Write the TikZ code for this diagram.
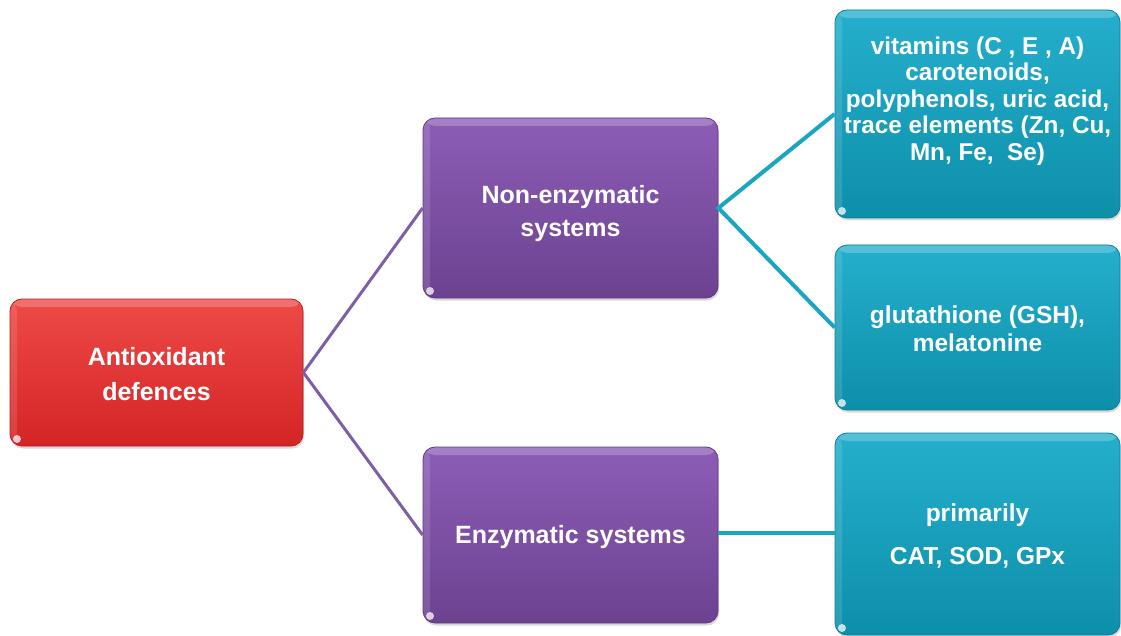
\documentclass[tikz,border=0pt]{standalone}
\usepackage{fontspec}
\setmainfont{Liberation Sans}
\usetikzlibrary{shadows}
\definecolor{redtop}{HTML}{EE4A47}
\definecolor{redbot}{HTML}{D42426}
\definecolor{redline}{HTML}{B51E20}
\definecolor{purtop}{HTML}{8C5DB6}
\definecolor{purbot}{HTML}{6C4290}
\definecolor{purline}{HTML}{5E3A80}
\definecolor{cyntop}{HTML}{25AFCC}
\definecolor{cynbot}{HTML}{0D8FAA}
\definecolor{cynline}{HTML}{0B7F97}
\definecolor{purconn}{HTML}{7E5EA6}
\definecolor{cynconn}{HTML}{1AA6C3}
\begin{document}
\begin{tikzpicture}[x=1pt,y=-1pt,
  box/.style={line width=0.8pt, rounded corners=12pt, inner sep=0pt,
    drop shadow={shadow xshift=1pt, shadow yshift=-2.5pt, opacity=0.3},
    path picture={
      \fill[white,opacity=0.22] (path picture bounding box.north west) rectangle ([yshift=-8pt]path picture bounding box.north east);
      \fill[white,opacity=0.12] (path picture bounding box.north west) rectangle ([xshift=7pt]path picture bounding box.south west);
      \fill[white,opacity=0.75] ([xshift=7pt,yshift=7pt]path picture bounding box.south west) circle (4pt);
    }},
  redbox/.style={box, draw=redline, top color=redtop, bottom color=redbot},
  purbox/.style={box, draw=purline, top color=purtop, bottom color=purbot},
  cynbox/.style={box, draw=cynline, top color=cyntop, bottom color=cynbot},
  txt/.style={text=white, align=center, inner sep=0pt},
  purlink/.style={draw=purconn, line width=3pt},
  cynlink/.style={draw=cynconn, line width=4pt},
]
\useasboundingbox (0,0) rectangle (1121,636);

% boxes
\node[redbox, minimum width=293pt, minimum height=147pt] (ad) at (156.5,372.5) {};
\node[purbox, minimum width=295pt, minimum height=180pt] (ne) at (570.5,208) {};
\node[purbox, minimum width=295pt, minimum height=176pt] (en) at (570.5,535) {};
\node[cynbox, minimum width=285pt, minimum height=208pt] (vit) at (977.5,114) {};
\node[cynbox, minimum width=285pt, minimum height=165pt] (glu) at (977.5,327.5) {};
\node[cynbox, minimum width=285pt, minimum height=202pt] (cat) at (977.5,534) {};

% connectors
\draw[purlink] (ne.west) -- (ad.east) -- (en.west);
\draw[cynlink] (vit.west) -- (ne.east) -- (glu.west);
\draw[cynlink] ([yshift=2pt]en.east) -- ([yshift=2pt]en.east -| cat.west);

% texts
\node[txt, font=\bfseries\fontsize{25}{35}\selectfont] (adt) at (156.5,374.5) {Antioxidant\\defences};
\node[txt, font=\bfseries\fontsize{25}{33}\selectfont] (net) at (570.5,213.5) {Non-enzymatic\\systems};
\node[txt, font=\bfseries\fontsize{25}{33}\selectfont] (ent) at (570.5,537) {Enzymatic systems};
\node[txt, font=\bfseries\fontsize{24.3}{26.5}\selectfont] (vitt) at (977.5,101) {vitamins (C , E , A)\\carotenoids,\\polyphenols, uric acid,\\trace elements (Zn, Cu,\\Mn, Fe,\ \ Se)};
\node[txt, font=\bfseries\fontsize{24.5}{28}\selectfont] (glut) at (977.5,329) {glutathione (GSH),\\melatonine};
\node[txt, font=\bfseries\fontsize{24.5}{43}\selectfont] (catt) at (977.5,536) {primarily\\CAT, SOD, GPx};
\end{tikzpicture}
\end{document}
